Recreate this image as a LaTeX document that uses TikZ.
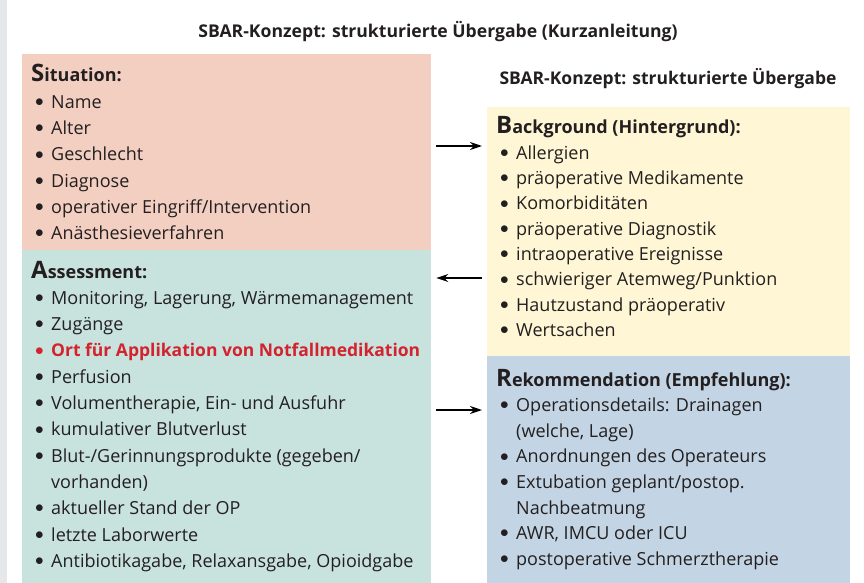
\documentclass[tikz,border=0pt]{standalone}
\usepackage{fontspec}
\setmainfont{Open Sans}
\usetikzlibrary{arrows.meta}

\definecolor{sitfarbe}{HTML}{F3CFC2}
\definecolor{assfarbe}{HTML}{C8E2DD}
\definecolor{bgfarbe}{HTML}{FEF6D4}
\definecolor{rekfarbe}{HTML}{C3D5E4}
\definecolor{randgrau}{HTML}{E6E7E9}
\definecolor{schrift}{HTML}{231F20}
\definecolor{rot}{HTML}{D2232E}

% Zeilen der Listen
\newcommand{\kopf}[2]{\hbox{\bfseries\fontsize{24}{24}\selectfont #1\fontsize{18}{18}\selectfont #2}}
\newcommand{\punkt}{\makebox[17pt][l]{\hspace*{1pt}\raisebox{1.8pt}{$\bullet$}}}
\newcommand{\pkt}[1]{\hbox{\hspace*{3pt}\punkt#1}}
\newcommand{\weiter}[1]{\hbox{\hspace*{20pt}#1}}

\begin{document}
\begin{tikzpicture}[x = 1pt, y = -1pt,
	feld/.style = {rectangle, inner sep = 0pt, anchor = north west},
	liste/.style = {inner sep = 0pt, anchor = base west, text = schrift, font = \fontsize{18}{18}\selectfont},
	pfeil/.style = {line width = 1.6pt, shorten <= 5pt, shorten >= 5pt},
	hin/.style = {-{Stealth[length = 12pt, width = 8pt]}},
	zurueck/.style = {{Stealth[length = 12pt, width = 8pt]}-}]

\useasboundingbox (0,0) rectangle (864,583);
\fill[randgrau] (0,0) rectangle (7,583);

\node[text = schrift, font = \bfseries\fontsize{17.6}{17.6}\selectfont, anchor = base] (titel) at (438, 38) {SBAR-Konzept: strukturierte Übergabe (Kurzanleitung)};
\node[text = schrift, font = \bfseries\fontsize{17.5}{17.5}\selectfont, anchor = base] (untertitel) at (668, 85) {SBAR-Konzept: strukturierte Übergabe};

% Felder
\node[feld, fill = sitfarbe, minimum width = 409pt, minimum height = 196pt] (sit) at (22, 54) {};
\node[feld, fill = assfarbe, minimum width = 409pt, minimum height = 333pt] (ass) at (22, 250) {};
\node[feld, fill = bgfarbe, minimum width = 363pt, minimum height = 249pt] (bg) at (487, 107) {};
\node[feld, fill = rekfarbe, minimum width = 363pt, minimum height = 228pt] (rek) at (487, 356) {};

\node[liste] (sitliste) at (31, 82) {\vtop{\baselineskip = 26.3pt
	\kopf{S}{ituation:}
	\pkt{Name}
	\pkt{Alter}
	\pkt{Geschlecht}
	\pkt{Diagnose}
	\pkt{operativer Eingriff/Intervention}
	\pkt{Anästhesieverfahren}}};

\node[liste] (assliste) at (31, 278) {\vtop{\baselineskip = 26.3pt
	\kopf{A}{ssessment:}
	\pkt{Monitoring, Lagerung, Wärmemanagement}
	\pkt{Zugänge}
	\hbox{\color{rot}\bfseries\fontsize{17.5}{17.5}\selectfont\hspace*{3pt}\punkt Ort für Applikation von Notfallmedikation}
	\pkt{Perfusion}
	\pkt{Volumentherapie, Ein- und Ausfuhr}
	\pkt{kumulativer Blutverlust}
	\pkt{Blut-/Gerinnungsprodukte (gegeben/}
	\weiter{vorhanden)}
	\pkt{aktueller Stand der OP}
	\pkt{letzte Laborwerte}
	\pkt{Antibiotikagabe, Relaxansgabe, Opioidgabe}}};

\node[liste] (bgliste) at (496, 134) {\vtop{\baselineskip = 25.3pt
	\kopf{B}{ackground (Hintergrund):}
	\pkt{Allergien}
	\pkt{präoperative Medikamente}
	\pkt{Komorbiditäten}
	\pkt{präoperative Diagnostik}
	\pkt{intraoperative Ereignisse}
	\pkt{schwieriger Atemweg/Punktion}
	\pkt{Hautzustand präoperativ}
	\pkt{Wertsachen}}};

\node[liste] (rekliste) at (496, 386) {\vtop{\baselineskip = 25.6pt
	\kopf{R}{ekommendation (Empfehlung):}
	\pkt{Operationsdetails: Drainagen}
	\weiter{(welche, Lage)}
	\pkt{Anordnungen des Operateurs}
	\pkt{Extubation geplant/postop.}
	\weiter{Nachbeatmung}
	\pkt{AWR, IMCU oder ICU}
	\pkt{postoperative Schmerztherapie}}};

\foreach \links/\rechts/\y/\art in {sit/bg/146/hin, ass/bg/278/zurueck, ass/rek/410/hin} {
	\draw[pfeil, \art] (\links.east |- 0,\y) -- (\rechts.west |- 0,\y);
}

\end{tikzpicture}
\end{document}
